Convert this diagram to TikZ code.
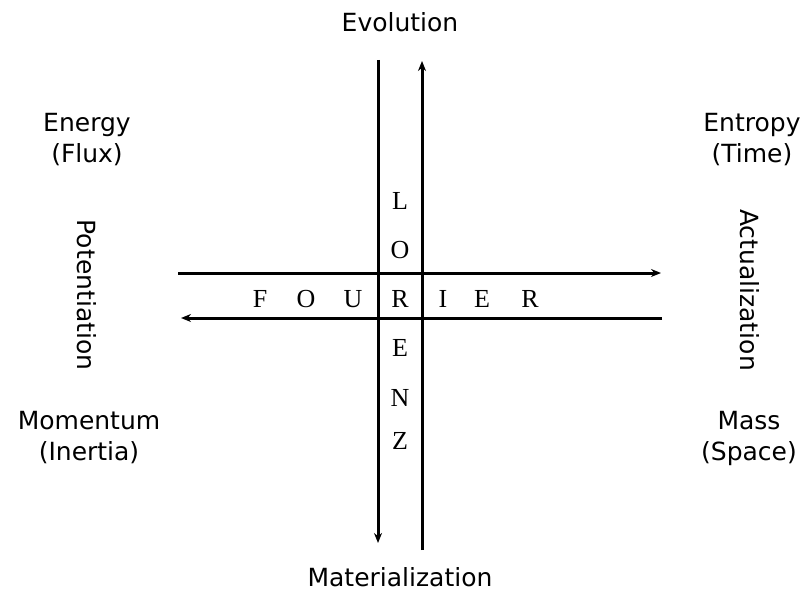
\documentclass[tikz,border=0pt]{standalone}
\usepackage{fontspec}
\setmainfont{Liberation Serif}
\setsansfont{DejaVu Sans}
\usetikzlibrary{arrows.meta}

\tikzset{
  axis/.style={line width=3pt,-{Stealth[length=10pt,width=8pt]}},
  word/.style={font=\sffamily\fontsize{25}{31}\selectfont,align=center},
  letter/.style={font=\rmfamily\fontsize{26}{28}\selectfont}
}

\begin{document}
\begin{tikzpicture}[x=1pt,y=-1pt]
  \useasboundingbox (0,0) rectangle (805,591);
  % ends of the four arrows
  \coordinate (lt) at (378,60);
  \coordinate (lb) at (378,543);
  \coordinate (rt) at (422,61);
  \coordinate (rb) at (422,550);
  \coordinate (tl) at (178,273);
  \coordinate (tr) at (661,273);
  \coordinate (bl) at (181,318);
  \coordinate (br) at (662,318);
  \draw[axis] (lt) -- (lb);
  \draw[axis] (rb) -- (rt);
  \draw[axis] (tl) -- (tr);
  \draw[axis] (br) -- (bl);
  % LORENZ, read downwards
  \node[letter] (l1) at (400,201) {L};
  \node[letter] (l2) at (400,250) {O};
  \node[letter] (l3) at (400,299) {R};
  \node[letter] (l4) at (400,348) {E};
  \node[letter] (l5) at (400,398) {N};
  \node[letter] (l6) at (400,441) {Z};
  % FOURIER, read across
  \node[letter] (f1) at (260,299) {F};
  \node[letter] (f2) at (306,299) {O};
  \node[letter] (f3) at (353,299) {U};
  \node[letter] (f5) at (443,299) {I};
  \node[letter] (f6) at (482,299) {E};
  \node[letter] (f7) at (530,299) {R};
  % labels round the cross
  \node[word] (evo) at (400,22) {Evolution};
  \node[word] (mat) at (400,577) {Materialization};
  \node[word] (ene) at (87,140) {Energy\\(Flux)};
  \node[word] (ent) at (752,140) {Entropy\\(Time)};
  \node[word] (mom) at (89,438) {Momentum\\(Inertia)};
  \node[word] (mas) at (749,438) {Mass\\(Space)};
  \node[word,rotate=-90] (pot) at (87,295) {Potentiation};
  \node[word,rotate=-90] (act) at (750,290) {Actualization};
\end{tikzpicture}
\end{document}
